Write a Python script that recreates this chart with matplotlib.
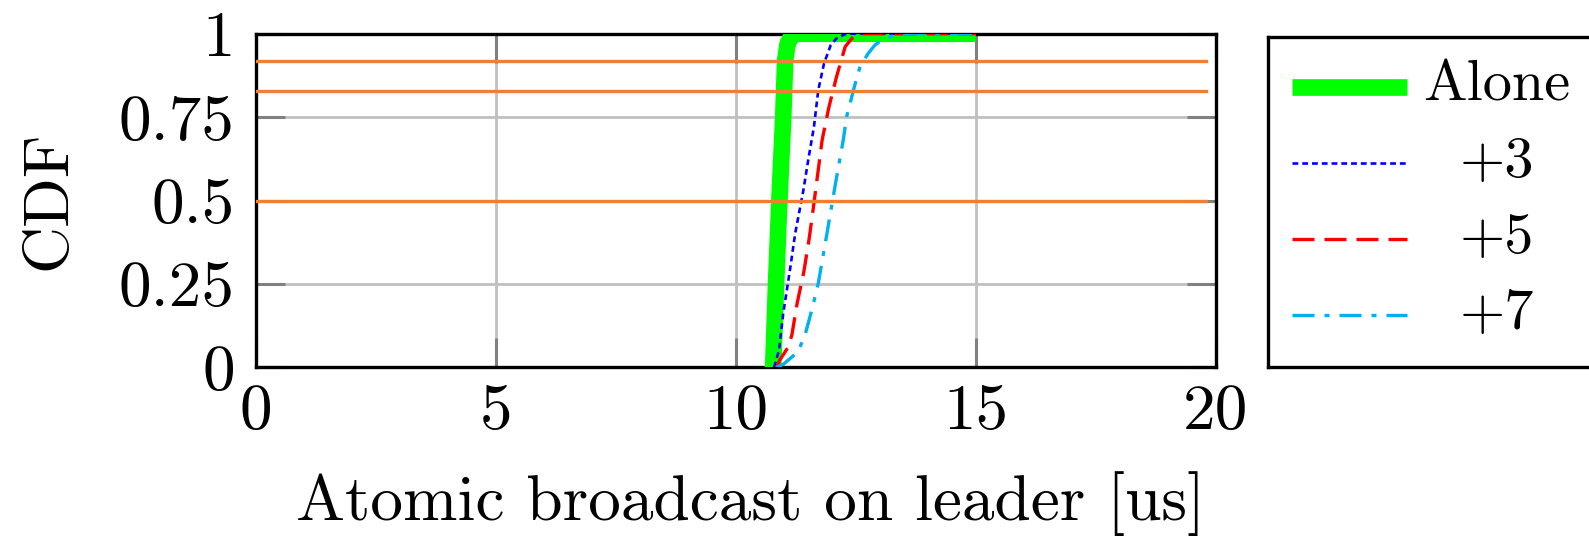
import matplotlib
matplotlib.use('Agg')
import matplotlib.pyplot as plt

# CDF samples per configuration (latency in us)
alone_x = [10.78, 10.84, 10.91, 10.99, 11.03, 11.08, 11.15, 11.25, 15.0]
alone_y = [0.0, 0.25, 0.5, 0.75, 0.92, 0.97, 0.99, 1.0, 1.0]

p3_x = [10.8, 10.9, 10.99, 11.13, 11.24, 11.41, 11.51, 11.63, 11.72, 11.84, 11.98, 12.10, 12.3, 15.0]
p3_y = [0.0, 0.05, 0.162, 0.292, 0.402, 0.531, 0.621, 0.721, 0.831, 0.911, 0.966, 0.986, 1.0, 1.0]

p5_x = [10.85, 10.92, 11.09, 11.17, 11.28, 11.42, 11.53, 11.62, 11.71, 11.80, 11.94, 12.10, 12.28, 12.42, 12.6, 15.0]
p5_y = [0.0, 0.022, 0.06, 0.097, 0.192, 0.287, 0.385, 0.481, 0.581, 0.681, 0.779, 0.871, 0.961, 0.986, 1.0, 1.0]

p7_x = [10.85, 11.0, 11.3, 11.45, 11.6, 11.72, 11.89, 12.08, 12.24, 12.31, 12.49, 12.59, 12.76, 12.9, 13.04, 13.3, 13.6, 15.0]
p7_y = [0.0, 0.01, 0.047, 0.1, 0.18, 0.252, 0.392, 0.552, 0.681, 0.751, 0.851, 0.901, 0.941, 0.966, 0.981, 0.995, 1.0, 1.0]

# percentile reference lines
ref_levels = [0.5, 0.828, 0.919]
ref_xmax = 19.8

x_ticks = [0, 5, 10, 15, 20]
y_ticks = [0, 0.25, 0.5, 0.75, 1]
y_ticklabels = ['0', '0.25', '0.5', '0.75', '1']

labels = ['Alone', '+3', '+5', '+7']
styles = [
    dict(color='#00ff00', lw=12, solid_joinstyle='round', solid_capstyle='butt'),
    dict(color='#0000ff', lw=1.9, dashes=(2.2, 1.5)),
    dict(color='#ff0000', lw=2.4, dashes=(6.6, 3.0)),
    dict(color='#00b0f0', lw=2.4, dashes=(6.6, 3.0, 1.5, 3.0)),
]

fig = plt.figure(figsize=(15.89, 5.37), dpi=100)
ax = fig.add_axes([0.1609, 0.316, 0.6042, 0.6212])

series = [(alone_x, alone_y), (p3_x, p3_y), (p5_x, p5_y), (p7_x, p7_y)]
for (xs, ys), st in zip(series, styles):
    ax.plot(xs, ys, zorder=3, **st)

for lvl in ref_levels:
    ax.plot([0, ref_xmax], [lvl, lvl], color='#ef7f33', lw=2.4, zorder=4)

ax.set_xlim(0, 20)
ax.set_ylim(0, 1)
ax.set_xticks(x_ticks)
ax.set_yticks(y_ticks)
ax.set_yticklabels(y_ticklabels)
ax.set_axisbelow(True)
ax.grid(True, color='#c0c0c0', lw=2.0)
ax.tick_params(direction='in', length=21, width=2.2, color='#808080',
               top=True, right=True, labelsize=47, labelfontfamily='cmr10')
ax.tick_params(axis='x', pad=12)
ax.tick_params(axis='y', pad=15)
for sp in ax.spines.values():
    sp.set_linewidth(2.4)

ax.set_xlabel('Atomic broadcast on leader [us]', fontsize=47, family='cmr10')
ax.xaxis.set_label_coords(0.515, -0.31)
ax.set_ylabel('CDF', fontsize=47, family='cmr10')
ax.yaxis.set_label_coords(-0.185, 0.5)

# legend drawn in its own box, entries centred
lax = fig.add_axes([0.7978, 0.3171, 0.2217, 0.6146])
lax.set_xlim(0, 352)
lax.set_ylim(330, 0)
lax.set_xticks([])
lax.set_yticks([])
for sp in lax.spines.values():
    sp.set_linewidth(2.4)
for i, (lab, st) in enumerate(zip(labels, styles)):
    yy = 50 + 76 * i
    lax.plot([24, 139], [yy, yy], **st)
    lax.text(229, yy + 14, lab, ha='center', va='baseline', fontsize=42,
             family='cmr10')

fig.savefig('out.png', dpi=100)
